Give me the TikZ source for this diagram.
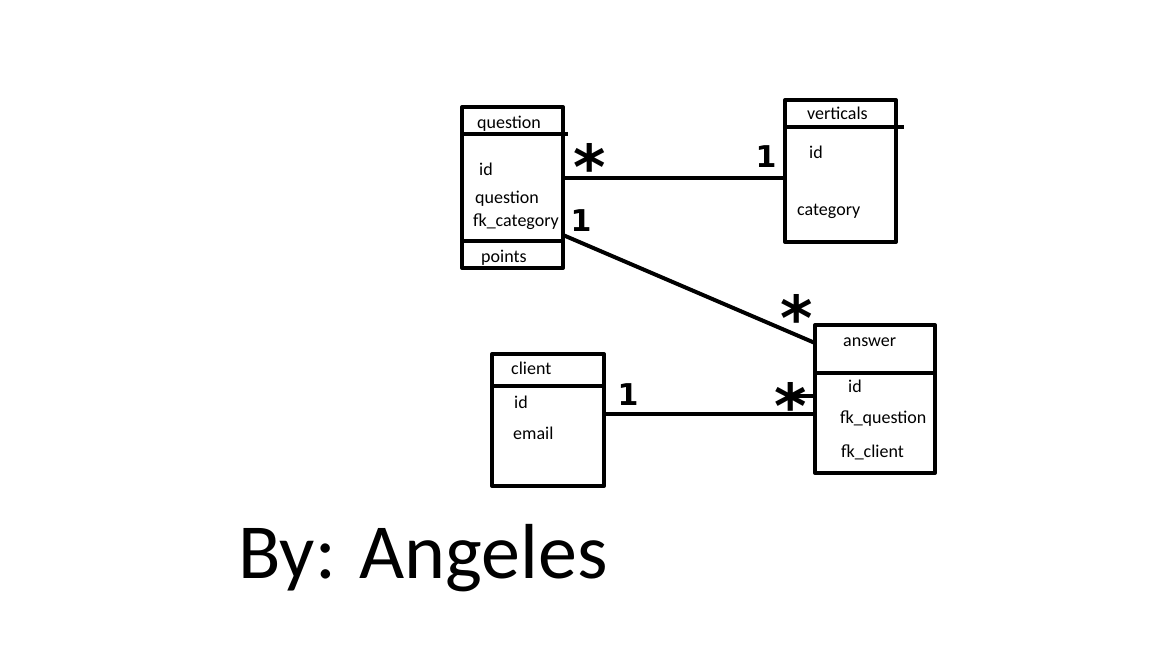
\documentclass[tikz,border=0pt]{standalone}
\usepackage{fontspec}
\setmainfont{Carlito}
\newfontfamily\markfont{DejaVu Sans}
\usetikzlibrary{positioning}
\tikzset{
  entity/.style={draw, line width=4pt, outer sep=0pt, inner sep=0pt},
  field/.style={anchor=base west, inner sep=0pt, font=\fontsize{18}{21}\selectfont},
  mult/.style={inner sep=0pt, font=\markfont\bfseries\fontsize{30}{36}\selectfont},
  star/.style={inner sep=0pt, font=\markfont\bfseries\fontsize{62}{70}\selectfont},
  link/.style={line width=4pt}
}
\begin{document}
\begin{tikzpicture}[x=1pt,y=-1pt, line join=round]
            \useasboundingbox (0,0) rectangle (1152,648);
            % tables
            \node[entity, minimum width=101, minimum height=134] (question) at (512.5,174) {};
            \node[entity, minimum width=101, minimum height=27, below=0pt of question] (points) {};
            \node[entity, minimum width=111, minimum height=142] (verticals) at (840.5,171) {};
            \node[entity, minimum width=120, minimum height=148] (answer) at (875,399) {};
            \node[entity, minimum width=112, minimum height=132] (client) at (548,420) {};
            \draw[link] ([yshift=-27]question.north west) -- ++(106,0);
            \draw[link] ([yshift=-27]verticals.north west) -- ++(119,0);
            \draw[link] ([yshift=-48]answer.north west) -- ++(120,0);
            \draw[link] ([yshift=-32]client.north west) -- ++(112,0);
            % fields
            \node[field] (qTitle) at (477,128) {question};
            \node[field] (qId) at (479,175) {id};
            \node[field] (qText) at (475,203) {question};
            \node[field] (qCat) at (473,226) {fk\_category};
            \node[field] (qPoints) at (481,262) {points};
            \node[field] (vTitle) at (807,119) {verticals};
            \node[field] (vId) at (809,158) {id};
            \node[field] (vCat) at (797,215) {category};
            \node[field] (aTitle) at (843,346) {answer};
            \node[field] (aId) at (848,392) {id};
            \node[field] (aQuest) at (840,423) {fk\_question};
            \node[field] (aClient) at (841,457) {fk\_client};
            \node[field] (cTitle) at (511,374) {client};
            \node[field] (cId) at (514,408) {id};
            \node[field] (cMail) at (513,439) {email};
            % relations
            \draw[link] ([yshift=-4]question.east) -- ([yshift=-7]verticals.west);
            \draw[link] ([yshift=6]question.south east) -- ([yshift=-18]answer.north west);
            \draw[link] ([yshift=6]client.east) -- ([yshift=-15]answer.west);
            \coordinate (stub) at (790,396);
            \draw[link] (stub) -- (stub -| answer.west);
            \node[star] (qStar) at (590,166) {*};
            \node[mult] (vOne) at (766,157) {1};
            \node[mult] (qOne) at (581,221) {1};
            \node[star] (aStar) at (797,317) {*};
            \node[mult] (cOne) at (628,395) {1};
            \node[star] (aStar2) at (791,405) {*};
            \node[anchor=base west, inner sep=0pt, font=\fontsize{78}{94}\selectfont] (author) at (238,578) {By: Angeles};
\end{tikzpicture}
\end{document}
